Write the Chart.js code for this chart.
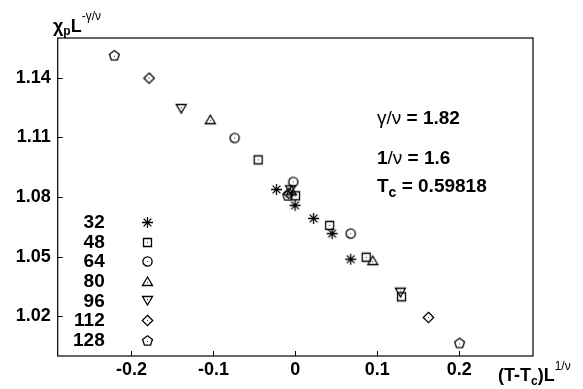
<!DOCTYPE html>
<html><head><meta charset="utf-8">
<script src="https://cdn.jsdelivr.net/npm/chart.js@4.4.0/dist/chart.umd.min.js"></script>
<style>html,body{margin:0;padding:0;background:#fff;}#wrap{width:583px;height:389px;position:relative;}</style>
</head><body><div id="wrap"><canvas id="c" width="583" height="389"></canvas></div>
<script>
// ---- data ----
const sizeLabels = ['32','48','64','80','96','112','128'];
const x32  = [-0.0230, -0.0004, 0.0223, 0.0449, 0.0676];
const y32  = [1.0838, 1.0758, 1.0692, 1.0616, 1.0487];
const x48  = [-0.0454, 0.0002, 0.0419, 0.0865, 0.1296];
const y48  = [1.0987, 1.0806, 1.0657, 1.0497, 1.0298];
const x64  = [-0.0741, -0.0026, 0.0676];
const y64  = [1.1097, 1.0876, 1.0616];
const x80  = [-0.1038, -0.0047, 0.0945];
const y80  = [1.1189, 1.0831, 1.0480];
const x96  = [-0.1393, -0.0059, 0.1282];
const y96  = [1.1245, 1.0836, 1.0321];
const x112 = [-0.1785, -0.0080, 0.1624];
const y112 = [1.1398, 1.0818, 1.0194];
const x128 = [-0.2209, -0.0092, 0.2004];
const y128 = [1.1513, 1.0808, 1.0066];
const xTicks = [-0.2, -0.1, 0, 0.1, 0.2];
const yTicks = [1.02, 1.05, 1.08, 1.11, 1.14];

// ---- markers ----
function makeMarker(kind){
  const c = document.createElement('canvas'); c.width = 15; c.height = 15;
  const g = c.getContext('2d'); g.strokeStyle = '#000'; g.lineWidth = 1.3;
  g.beginPath();
  let dot = [7, 7];
  if (kind === 'star') {
    for (let a = 0; a < 4; a++) {
      const t = a * Math.PI / 4, r = 5.5;
      g.moveTo(7.5 - r*Math.cos(t), 7.5 - r*Math.sin(t));
      g.lineTo(7.5 + r*Math.cos(t), 7.5 + r*Math.sin(t));
    }
  } else if (kind === 'square') {
    g.rect(3.5, 3.5, 8, 8);
  } else if (kind === 'circle') {
    g.arc(7.5, 7.5, 4.6, 0, Math.PI*2);
  } else if (kind === 'up') {
    g.moveTo(7.5, 3); g.lineTo(12.5, 11.5); g.lineTo(2.5, 11.5); g.closePath(); dot = [7, 8];
  } else if (kind === 'down') {
    g.moveTo(2.5, 3.5); g.lineTo(12.5, 3.5); g.lineTo(7.5, 12); g.closePath(); dot = [7, 6];
  } else if (kind === 'diamond') {
    g.moveTo(7.5, 2.3); g.lineTo(12.7, 7.5); g.lineTo(7.5, 12.7); g.lineTo(2.3, 7.5); g.closePath();
  } else if (kind === 'pentagon') {
    for (let k = 0; k < 5; k++) {
      const t = -Math.PI/2 + k*2*Math.PI/5, r = 5.2;
      const px = 7.5 + r*Math.cos(t), py = 8 + r*Math.sin(t);
      if (k === 0) g.moveTo(px, py); else g.lineTo(px, py);
    }
    g.closePath(); dot = [7, 8];
  }
  g.stroke();
  if (kind === 'star') { g.fillStyle = '#000'; g.fillRect(6, 6, 3, 3); }
  else { g.fillStyle = '#333'; g.fillRect(dot[0], dot[1], 1, 1); }
  return c;
}
const kinds = ['star','square','circle','up','down','diamond','pentagon'];
const markers = kinds.map(makeMarker);

const xs = [x32, x48, x64, x80, x96, x112, x128];
const ys = [y32, y48, y64, y80, y96, y112, y128];
const datasets = sizeLabels.map((lab, i) => ({
  label: lab,
  data: xs[i].map((x, j) => ({x: x, y: ys[i][j]})),
  pointStyle: markers[i],
  pointRadius: 5,
  pointHoverRadius: 5,
  showLine: false
}));

function drawRich(ctx, parts, x, y) {
  let cx = x;
  for (const p of parts) {
    ctx.font = p.f;
    ctx.fillText(p.t, cx, y + (p.dy || 0));
    cx += ctx.measureText(p.t).width + (p.gap || 0);
  }
}

const FAM = '"Liberation Sans", Arial, sans-serif';
const B = 'bold 18px ' + FAM;
const BS = 'bold 12px ' + FAM;
const NS = '12px ' + FAM;
const AB = 'bold 19px ' + FAM;
const AN = '19px ' + FAM;
const ABS = 'bold 14px ' + FAM;

const decor = {
  id: 'decor',
  afterDraw(chart) {
    const ctx = chart.ctx, a = chart.chartArea;
    const sx = chart.scales.x, sy = chart.scales.y;
    ctx.save();
    ctx.strokeStyle = '#000'; ctx.lineWidth = 1.2;
    ctx.strokeRect(a.left, a.top, a.right - a.left, a.bottom - a.top);
    ctx.lineWidth = 1;
    ctx.beginPath();
    sx.ticks.forEach(t => { const p = Math.round(sx.getPixelForValue(t.value)) + 0.5; ctx.moveTo(p, a.bottom); ctx.lineTo(p, a.bottom - 5); });
    sy.ticks.forEach(t => { const p = Math.round(sy.getPixelForValue(t.value)) + 0.5; ctx.moveTo(a.left, p); ctx.lineTo(a.left + 5, p); });
    ctx.stroke();

    ctx.fillStyle = '#000';
    ctx.textBaseline = 'alphabetic';
    ctx.textAlign = 'left';
    // y title
    drawRich(ctx, [
      {t: 'χ', f: B}, {t: 'p', f: BS, dy: 3}, {t: 'L', f: B},
      {t: '-γ/ν', f: NS, dy: -12}
    ], 53, 32);
    // x title
    drawRich(ctx, [
      {t: '(T-T', f: B}, {t: 'c', f: BS, dy: 4}, {t: ')L', f: B},
      {t: '1/ν', f: NS, dy: -11}
    ], 498, 381);
    // annotations
    const ax = 377;
    drawRich(ctx, [{t: 'γ/ν', f: AN}, {t: ' = 1.82', f: AB}], ax, 124);
    drawRich(ctx, [{t: '1', f: AB}, {t: '/ν', f: AN}, {t: ' = 1.6', f: AB}], ax, 164);
    drawRich(ctx, [{t: 'T', f: AB}, {t: 'c', f: ABS, dy: 5}, {t: ' = 0.59818', f: AB}], ax, 192);

    // legend
    ctx.font = 'bold 19px ' + FAM;
    ctx.textAlign = 'right';
    ctx.textBaseline = 'middle';
    sizeLabels.forEach((lab, i) => {
      const yy = a.top + 184 + i * 19.6;
      ctx.fillText(lab, a.left + 47, yy + 1);
      Chart.helpers.drawPoint(ctx, {pointStyle: markers[i], radius: 5, rotation: 0, borderWidth: 1}, Math.round(a.left + 89) + 0.5, Math.round(yy) + 0.5);
    });
    ctx.restore();
  }
};

new Chart(document.getElementById('c'), {
  type: 'scatter',
  data: { datasets },
  options: {
    responsive: false,
    animation: false,
    devicePixelRatio: 1,
    layout: { padding: { left: 0, right: 50, top: 38, bottom: 0 } },
    plugins: { legend: { display: false }, tooltip: { enabled: false } },
    scales: {
      x: {
        type: 'linear', min: -0.29, max: 0.29,
        afterBuildTicks: s => { s.ticks = xTicks.map(v => ({value: v})); },
        afterFit: s => { s.height = 33; },
        grid: { display: false, drawTicks: false },
        border: { display: false },
        ticks: { color: '#000', font: { family: FAM, size: 18, weight: 'bold' }, padding: 3, maxRotation: 0,
          callback: v => (v === 0 ? '0' : String(v)) }
      },
      y: {
        type: 'linear', min: 1.0, max: 1.16,
        afterBuildTicks: s => { s.ticks = yTicks.map(v => ({value: v})); },
        afterFit: s => { s.width = 57.7; },
        grid: { display: false, drawTicks: false },
        border: { display: false },
        ticks: { color: '#000', font: { family: FAM, size: 18, weight: 'bold' }, padding: 7,
          callback: v => v.toFixed(2) }
      }
    }
  },
  plugins: [decor]
});
</script></body></html>
